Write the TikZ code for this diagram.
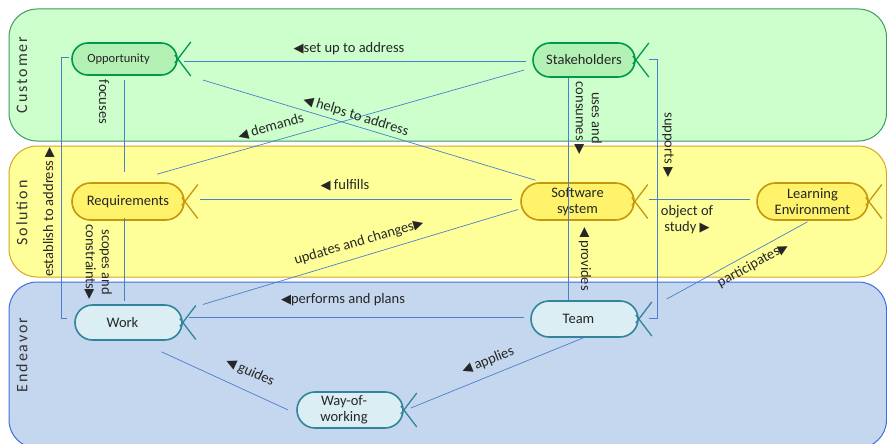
\documentclass[tikz,border=0pt]{standalone}
\usepackage{fontspec}
\setmainfont{Carlito}
\newfontfamily\symfont{DejaVu Sans}[Scale=0.9]
\usetikzlibrary{positioning}

\definecolor{custfill}{HTML}{CCFFCC}
\definecolor{custline}{HTML}{3C9A5F}
\definecolor{custnode}{HTML}{B3F0B3}
\definecolor{custedge}{HTML}{00994C}
\definecolor{solfill}{HTML}{FFFF99}
\definecolor{solline}{HTML}{D9A520}
\definecolor{solnode}{HTML}{FFF36B}
\definecolor{soledge}{HTML}{C8960C}
\definecolor{endfill}{HTML}{C5D7EE}
\definecolor{endline}{HTML}{3A6FE0}
\definecolor{endnode}{HTML}{DAEEF4}
\definecolor{endedge}{HTML}{31849B}
\definecolor{linkblue}{HTML}{4A7FCC}

\newcommand{\lft}{{\symfont ◀}}
\newcommand{\rgt}{{\symfont ▶}}

\newcommand{\fishtail}[2]{%
  \draw[#2, line width=1.3pt] ([xshift=-3pt,yshift=-4pt]#1.east) -- ([xshift=13pt,yshift=17pt]#1.east);
  \draw[#2, line width=1.3pt] ([xshift=-3pt,yshift=4pt]#1.east) -- ([xshift=13pt,yshift=-17pt]#1.east);
}

\tikzset{
  area/.style={rounded corners=28pt, line width=1pt},
  areaname/.style={rotate=90, text=black!80,
    font=\fontsize{16}{18}\selectfont\addfontfeature{LetterSpace=12}},
  stadium/.style n args={2}{minimum width=#1pt, minimum height=#2pt, rounded corners=#2*0.5pt},
  thing/.style={draw, rectangle, line width=1.6pt, inner sep=1pt, align=center,
    text=black!85, font=\fontsize{14.5}{16}\selectfont},
  cust/.style={thing, draw=custedge, fill=custnode},
  sol/.style={thing, draw=soledge, fill=solnode},
  endv/.style={thing, draw=endedge, fill=endnode},
  link/.style={linkblue, line width=0.7pt},
  rel/.style={inner sep=1pt, align=center, text=black!85, font=\fontsize{14.5}{16}\selectfont},
}

\begin{document}
\begin{tikzpicture}[x=1pt, y=-1pt]
  \clip (0,0) rectangle (887,444);
  \draw[area, draw=custline, fill=custfill] (9,9) rectangle (886.5,141);
  \draw[area, draw=solline, fill=solfill] (9,146) rectangle (886.5,277);
  \draw[area, draw=endline, fill=endfill] (9,282) rectangle (886.5,448);

  \node[areaname] (customer) at (22,75) {Customer};
  \node[areaname] (solution) at (22,213) {Solution};
  \node[areaname] (endeavor) at (22,355) {Endeavor};

  \node[cust, stadium={105}{32}, font=\fontsize{12.5}{14}\selectfont] (opp) at (124.5,59) {Opportunity\hspace*{12pt}};
  \node[cust, stadium={102}{34}] (stake) at (584,60) {Stakeholders};
  \node[sol, stadium={112}{37}] (req) at (128,201.5) {Requirements};
  \node[sol, stadium={113}{37}] (soft) at (577.5,201.5) {Software\\system};
  \node[sol, stadium={111}{37}] (learn) at (812.5,201.5) {Learning\\Environment};
  \node[endv, stadium={107}{35}] (work) at (128.5,322.5) {Work\hspace*{12pt}};
  \node[endv, stadium={107}{36}] (team) at (584.5,319) {Team\hspace*{12pt}};
  \node[endv, stadium={106}{36}] (way) at (350,410) {Way-of-\hspace*{12pt}\\working\hspace*{12pt}};

  \fishtail{opp}{custedge}
  \fishtail{stake}{custedge}
  \fishtail{req}{soledge}
  \fishtail{soft}{soledge}
  \fishtail{learn}{soledge}
  \fishtail{work}{endedge}
  \fishtail{team}{endedge}
  \fishtail{way}{endedge}

  \draw[link, shorten <=6pt, shorten >=6pt] ([yshift=-2pt]opp.east) -- ([yshift=-2pt]opp.east -| stake.west);
  \draw[link] ([xshift=25pt,yshift=-21pt]opp.east) -- ([xshift=-42pt,yshift=2pt]soft.north);
  \draw[link] ([xshift=29pt,yshift=8pt]req.north) -- ([xshift=-8pt,yshift=-10pt]stake.west);
  \draw[link, shorten <=4pt, shorten >=10pt] (opp.south) -- (opp.south |- req.north);
  \draw[link] ([xshift=-2pt,yshift=2pt]opp.west) -- ++(-8,0) |- ([xshift=-7pt,yshift=4pt]work.west);
  \draw[link] ([xshift=-4pt,yshift=3pt]req.south) -- ([xshift=-4.5pt,yshift=3pt]work.north);
  \draw[link] ([xshift=15pt,yshift=2pt]req.east) -- ([xshift=-8pt,yshift=2pt]soft.west);
  \draw[link] ([xshift=20pt,yshift=18pt]work.east) -- ([xshift=-2pt,yshift=-8pt]soft.west);
  \draw[link] ([xshift=-16pt]stake.south) -- ([xshift=-16.5pt]team.north);
  \draw[link] ([xshift=13pt,yshift=1pt]stake.east) -- ++(9,0) |- ([xshift=10pt,yshift=1pt]team.east);
  \draw[link] ([xshift=14pt,yshift=2pt]soft.east) -- ([xshift=-6pt,yshift=2pt]learn.west);
  \draw[link] ([xshift=28pt,yshift=20pt]team.east) -- ([xshift=-5pt,yshift=-1pt]learn.south);
  \draw[link] ([xshift=-6pt,yshift=2pt]team.west) -- ([xshift=6pt,yshift=2pt]team.west -| work.east);
  \draw[link] ([xshift=33pt,yshift=-11pt]work.south) -- ([xshift=-8pt]way.west);
  \draw[link] ([xshift=7pt,yshift=2pt]way.east) -- ([xshift=-1pt]team.south);

  \node[rel] (lsetup) at (349,49) {\lft{}set up to address};
  \node[rel, rotate=-17] (lhelps) at (356,116) {\lft\ helps to address};
  \node[rel, rotate=16] (ldemands) at (271,127) {\lft\ demands};
  \node[rel, rotate=-90] (lfocuses) at (104,102) {focuses};
  \node[rel, rotate=90] (lestab) at (49,212) {establish to address \rgt};
  \node[rel, rotate=-90] (lscopes) at (98,262) {scopes and\\constraints\rgt};
  \node[rel] (lfulfills) at (345,185) {\lft\ fulfills};
  \node[rel, rotate=16.5] (lupdates) at (359,242) {updates and changes\rgt};
  \node[rel, rotate=-90] (luses) at (588,118) {uses and\\consumes \rgt};
  \node[rel, rotate=-90] (lprovides) at (585,259) {\lft\ provides};
  \node[rel, rotate=-90] (lsupports) at (668,145) {supports \rgt};
  \node[rel] (lobject) at (687,220) {object of\\study \rgt};
  \node[rel, rotate=29] (lpart) at (753,265) {participates\rgt};
  \node[rel] (lperforms) at (343,300) {\lft{}performs and plans};
  \node[rel, rotate=-25] (lguides) at (250,372) {\lft\ guides};
  \node[rel, rotate=22] (lapplies) at (488,361) {\lft\ applies};
\end{tikzpicture}
\end{document}
